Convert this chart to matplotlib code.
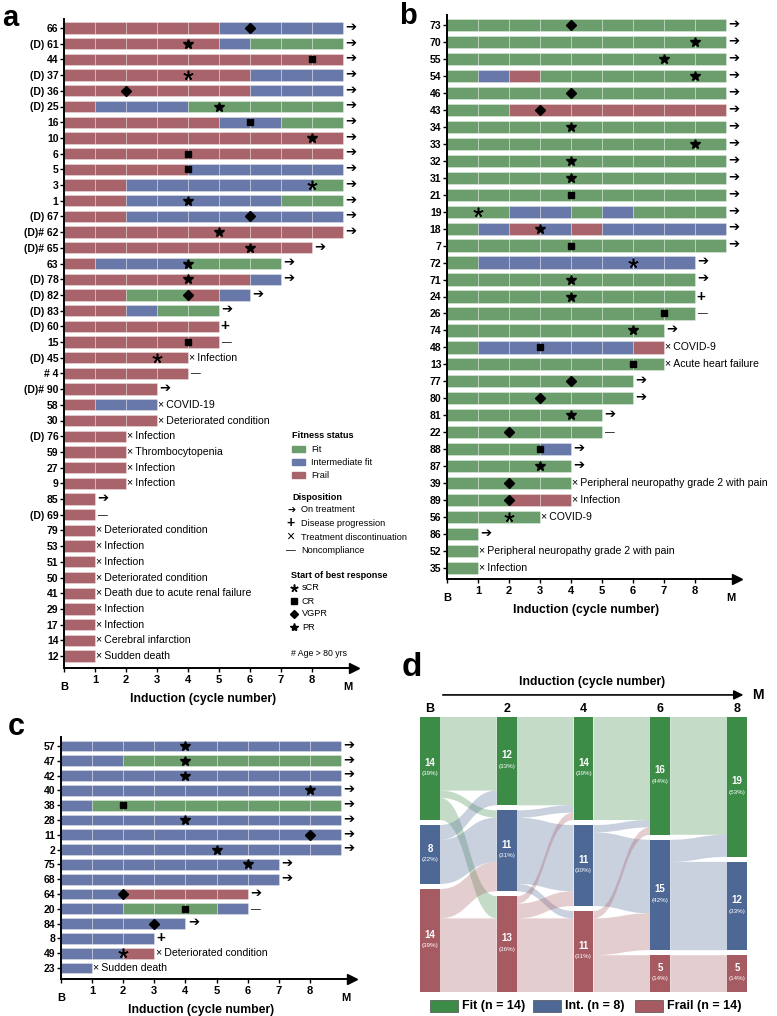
import matplotlib
matplotlib.use("Agg")
import matplotlib.pyplot as plt
from matplotlib.patches import Rectangle, PathPatch
from matplotlib.path import Path
from matplotlib.lines import Line2D

plt.rcParams['font.family'] = ['Liberation Sans', 'DejaVu Sans']

# ---- panel a : frail at baseline ----
a_ids = ["66", "(D) 61", "44", "(D) 37", "(D) 36", "(D) 25", "16", "10", "6", "5", "3", "1",
         "(D) 67", "(D)# 62", "(D)# 65", "63", "(D) 78", "(D) 82", "(D) 83", "(D) 60", "15",
         "(D) 45", "# 4", "(D)# 90", "58", "30", "(D) 76", "59", "27", "9", "85", "(D) 69",
         "79", "53", "51", "50", "41", "29", "17", "14", "12"]
# fitness status per cycle: G = fit, I = intermediate fit, F = frail
a_status = ["FFFFFIIII", "FFFFFIGGG", "FFFFFFFFF", "FFFFFFIII", "FFFFFFIII", "FIIIGGGGG",
            "FFFFFIIGG", "FFFFFFFFF", "FFFFFFFFF", "FFFFIIIII", "FFIIIIIIG", "FFIIIIIGG",
            "FFIIIIIII", "FFFFFFFFF", "FFFFFFFF", "FIIIGGG", "FFFFFFI", "FFGGFI", "FFIGG",
            "FFFFF", "FFFFF", "FFFF", "FFFF", "FFF", "FII", "FFF", "FF", "FF", "FF", "FF",
            "F", "F", "F", "F", "F", "F", "F", "F", "F", "F", "F"]
a_resp = ["VGPR", "PR", "CR", "sCR", "VGPR", "PR", "CR", "PR", "CR", "CR", "sCR", "PR",
          "VGPR", "PR", "PR", "PR", "PR", "VGPR", None, None, "CR", "sCR"] + [None] * 19
a_resp_at = [6, 4, 8, 4, 2, 5, 6, 8, 4, 4, 8, 4, 6, 5, 6, 4, 4, 4, None, None, 4, 3] + [None] * 19
# ">" on treatment, "+" progression, "-" noncompliance, otherwise discontinuation reason
a_disp = [">"] * 19 + ["+", "-", "Infection", "-", ">", "COVID-19", "Deteriorated condition",
                       "Infection", "Thrombocytopenia", "Infection", "Infection", ">", "-",
                       "Deteriorated condition", "Infection", "Infection", "Deteriorated condition",
                       "Death due to acute renal failure", "Infection", "Infection",
                       "Cerebral infarction", "Sudden death"]

# ---- panel b : fit at baseline ----
b_ids = ["73", "70", "55", "54", "46", "43", "34", "33", "32", "31", "21", "19", "18", "7",
         "72", "71", "24", "26", "74", "48", "13", "77", "80", "81", "22", "88", "87", "39",
         "89", "56", "86", "52", "35"]
b_status = ["GGGGGGGGG", "GGGGGGGGG", "GGGGGGGGG", "GIFGGGGGG", "GGGGGGGGG", "GGFFFFFFF",
            "GGGGGGGGG", "GGGGGGGGG", "GGGGGGGGG", "GGGGGGGGG", "GGGGGGGGG", "GGIIGIGGG",
            "GIFIFIIII", "GGGGGGGGG", "GIIIIIII", "GGGGGGGG", "GGGGGGGG", "GGGGGGGG",
            "GGGGGGG", "GIIIIIF", "GGGGGGG", "GGGGGG", "GGGGGG", "GGGGG", "GGGGG", "GGGI",
            "GGGG", "GGGG", "GGFF", "GGG", "G", "G", "G"]
b_resp = ["VGPR", "PR", "PR", "PR", "VGPR", "VGPR", "PR", "PR", "PR", "PR", "CR", "sCR", "PR",
          "CR", "sCR", "PR", "PR", "CR", "PR", "CR", "CR", "VGPR", "VGPR", "PR", "VGPR", "CR",
          "PR", "VGPR", "VGPR", "sCR", None, None, None]
b_resp_at = [4, 8, 7, 8, 4, 3, 4, 8, 4, 4, 4, 1, 3, 4, 6, 4, 4, 7, 6, 3, 6, 4, 3, 4, 2, 3, 3,
             2, 2, 2, None, None, None]
b_disp = [">"] * 16 + ["+", "-", ">", "COVID-9", "Acute heart failure", ">", ">", ">", "-",
                       ">", ">", "Peripheral neuropathy grade 2 with pain", "Infection",
                       "COVID-9", ">", "Peripheral neuropathy grade 2 with pain", "Infection"]

# ---- panel c : intermediate fit at baseline ----
c_ids = ["57", "47", "42", "40", "38", "28", "11", "2", "75", "68", "64", "20", "84", "8",
         "49", "23"]
c_status = ["IIIIIIIII", "IIGGGGGGG", "IIIIIIIII", "IIIIIIIII", "IGGGGGGGG", "IIIIIIIII",
            "IIIIIIIII", "IIIIIIIII", "IIIIIII", "IIIIIII", "IIFFFF", "IIGGGI", "IIII", "III",
            "IIF", "I"]
c_resp = ["PR", "PR", "PR", "PR", "CR", "PR", "VGPR", "PR", "PR", None, "VGPR", "CR", "VGPR",
          None, "sCR", None]
c_resp_at = [4, 4, 4, 8, 2, 4, 8, 5, 6, None, 2, 4, 3, None, 2, None]
c_disp = [">"] * 11 + ["-", ">", "+", "Deteriorated condition", "Sudden death"]

# ---- panel d : sankey ----
d_cols = ["B", "2", "4", "6", "8"]
d_fit = [14, 12, 14, 16, 19]
d_int = [8, 11, 11, 15, 12]
d_frail = [14, 13, 11, 5, 5]
d_pct = [[39, 22, 39], [33, 31, 36], [39, 30, 31], [44, 42, 14], [53, 33, 14]]
# transitions between consecutive columns, rows = from (fit, int, frail), cols = to
d_flows = [[[10, 1, 3], [2, 6, 0], [0, 4, 10]],
           [[12, 0, 0], [1, 9, 1], [1, 2, 10]],
           [[14, 0, 0], [1, 10, 0], [1, 5, 5]],
           [[16, 0, 0], [3, 12, 0], [0, 0, 5]]]

BAR_COL = {"G": "#6b9e6c", "I": "#6878a9", "F": "#a8636b"}
D_COL = ["#3c8c48", "#4e6896", "#a65b63"]
MARK = {
    "sCR": dict(marker=(5, 2, 0), ms=7, mew=1.1, color="k"),
    "CR": dict(marker="s", ms=5, color="k"),
    "VGPR": dict(marker="D", ms=4.8, color="k"),
    "PR": dict(marker="*", ms=7.5, color="k"),
}

W, H = 777, 1016
fig = plt.figure(figsize=(W / 100, H / 100), dpi=100)


def fx(x):
    return x / W


def fy(y):
    return 1 - y / H


def swimmer(left, unit, first, last, axis_y, ids, status, resp, resp_at, disp):
    n = len(ids)
    sp = (last - first) / (n - 1)
    top = first - 0.6 * sp
    ax = fig.add_axes([fx(left), fy(axis_y), 9.35 * unit / W, (axis_y - top) / H])
    ax.set_xlim(0, 9.35)
    ax.set_ylim(n - 1 + (axis_y - last) / sp, -0.6)
    for i in range(n):
        for k, s in enumerate(status[i]):
            ax.barh(i, 1, left=k, height=0.72, color=BAR_COL[s],
                    edgecolor=(1, 1, 1, 0.35), linewidth=0.6)
        end = len(status[i])
        if resp[i]:
            ax.plot(resp_at[i], i, linestyle="none", **MARK[resp[i]])
        d = disp[i]
        if d == ">":
            ax.text(end + 0.08, i, "➔", ha="left", va="center", fontsize=9.5,
                    fontweight="bold", clip_on=False)
        elif d == "+":
            ax.text(end + 0.06, i, "+", ha="left", va="center", fontsize=11,
                    fontweight="bold", clip_on=False)
        elif d == "-":
            ax.text(end + 0.1, i, "—", ha="left", va="center", fontsize=7, clip_on=False)
        else:
            ax.text(end + 0.04, i, "×\u2009" + d, ha="left", va="center", fontsize=7.6,
                    clip_on=False)
    ax.spines[["top", "right"]].set_visible(False)
    ax.spines["left"].set_linewidth(1.4)
    ax.spines["bottom"].set_linewidth(1.4)
    ax.plot(1, 0, ">k", ms=7, transform=ax.transAxes, clip_on=False)
    ax.set_yticks(range(n), ids, fontweight="bold", fontsize=7.5)
    ax.set_xticks(range(9), [""] + [str(c) for c in range(1, 9)], fontweight="bold", fontsize=8)
    ax.tick_params(axis="x", length=3, width=1, pad=2)
    ax.tick_params(axis="y", length=3, width=1, pad=1)
    for lab, xv in [("B", 0), ("M", 9.15)]:
        ax.annotate(lab, (xv, 0), xycoords=("data", "axes fraction"), xytext=(0, -14),
                    textcoords="offset points", ha="center", va="center",
                    fontweight="bold", fontsize=8)
    ax.annotate("Induction (cycle number)", (4.5, 0), xycoords=("data", "axes fraction"),
                xytext=(0, -22), textcoords="offset points", ha="center", va="center",
                fontweight="bold", fontsize=8.8)
    return ax


swimmer(64, 31, 28, 656, 668, a_ids, a_status, a_resp, a_resp_at, a_disp)
swimmer(447, 31, 25, 568, 579, b_ids, b_status, b_resp, b_resp_at, b_disp)
swimmer(61, 31.1, 746, 968, 979, c_ids, c_status, c_resp, c_resp_at, c_disp)

# panel letters
for lab, x, y, s in [("a", 2, 18, 21), ("b", 399, 16, 21), ("c", 8, 727, 22), ("d", 402, 667, 24)]:
    fig.text(fx(x), fy(y), lab, fontsize=s, fontweight="bold", va="center", ha="left")

# ---- legend of panel a ----
def ftext(x, y, s, **kw):
    fig.text(fx(x), fy(y), s, va="center", ha="left", **kw)


ftext(292, 435, "Fitness status", fontsize=6.6, fontweight="bold")
for j, (lab, code) in enumerate([("Fit", "G"), ("Intermediate fit", "I"), ("Frail", "F")]):
    y = 449 + 13 * j
    fig.add_artist(Rectangle((fx(292), fy(y + 3)), 13 / W, 6 / H, color=BAR_COL[code],
                             transform=fig.transFigure))
    ftext(311, y, lab, fontsize=6.6)
ftext(292, 498, "Disposition", fontsize=6.6, fontweight="bold")
ftext(287, 510, "➔", fontsize=7, fontweight="bold")
ftext(286, 523, "+", fontsize=10, fontweight="bold")
ftext(286, 537, "×", fontsize=10)
ftext(286, 550, "—", fontsize=7)
for j, lab in enumerate(["On treatment", "Disease progression", "Treatment discontinuation",
                         "Noncompliance"]):
    ftext(301, 510 + 13.5 * j, lab, fontsize=6.6)
ftext(291, 575, "Start of best response", fontsize=6.6, fontweight="bold")
for j, (lab, key) in enumerate([("sCR", "sCR"), ("CR", "CR"), ("VGPR", "VGPR"), ("PR", "PR")]):
    y = 588 + 13 * j
    style = dict(MARK[key])
    style["ms"] = style["ms"] * 0.8
    fig.add_artist(Line2D([fx(294)], [fy(y)], linestyle="none", transform=fig.transFigure,
                          **style))
    ftext(302, y, lab, fontsize=6.6)
ftext(291, 654, "# Age > 80 yrs", fontsize=6.3)

# ---- panel d : sankey ----
gap = 0.68
total = 36 + 2 * gap
axd = fig.add_axes([fx(400), fy(992), 367 / W, 275 / H])
axd.set_xlim(-0.391, 4.391)
axd.set_ylim(total, 0)
axd.axis("off")
hw = 0.13

nodes = []
for c in range(len(d_cols)):
    vals = [d_fit[c], d_int[c], d_frail[c]]
    tops, y = [], 0
    for v in vals:
        tops.append(y)
        y += v + gap
    nodes.append((vals, tops))

for c, flows in enumerate(d_flows):
    svals, stops = nodes[c]
    tvals, ttops = nodes[c + 1]
    s_off = list(stops)
    t_off = list(ttops)
    segs = []
    for s in range(3):
        for t in range(3):
            v = flows[s][t]
            if v:
                segs.append((s, t, s_off[s], v))
                s_off[s] += v
    t_start = {}
    for s in range(3):
        for t in range(3):
            v = flows[s][t]
            if v:
                t_start[(s, t)] = t_off[t]
                t_off[t] += v
    xs, xt = c + hw, c + 1 - hw
    xm = (xs + xt) / 2
    for s, t, ys, v in segs:
        yt = t_start[(s, t)]
        verts = [(xs, ys), (xm, ys), (xm, yt), (xt, yt), (xt, yt + v), (xm, yt + v),
                 (xm, ys + v), (xs, ys + v), (xs, ys)]
        codes = [Path.MOVETO, Path.CURVE4, Path.CURVE4, Path.CURVE4, Path.LINETO,
                 Path.CURVE4, Path.CURVE4, Path.CURVE4, Path.CLOSEPOLY]
        axd.add_patch(PathPatch(Path(verts, codes), facecolor=D_COL[s], alpha=0.3,
                                edgecolor="none"))

for c, (vals, tops) in enumerate(nodes):
    for k in range(3):
        axd.bar(c, vals[k], bottom=tops[k], width=2 * hw, color=D_COL[k])
        mid = tops[k] + vals[k] / 2
        axd.text(c, mid - 0.8, str(vals[k]), ha="center", va="center", color="white",
                 fontsize=7, fontweight="bold")
        axd.text(c, mid + 0.7, f"({d_pct[c][k]}%)", ha="center", va="center",
                 color="white", fontsize=4.5)
    axd.text(c, -1.1, d_cols[c], ha="center", va="center", fontsize=9, fontweight="bold",
             clip_on=False)

axd.annotate("", xy=(4.12, -3.0), xytext=(0.13, -3.0),
             arrowprops=dict(arrowstyle="-|>", lw=1.2, color="k", mutation_scale=14),
             annotation_clip=False)
axd.text(4.27, -3.0, "M", ha="center", va="center", fontsize=10, fontweight="bold",
         clip_on=False)
axd.text(2.11, -4.76, "Induction (cycle number)", ha="center", va="center", fontsize=8.8,
         fontweight="bold", clip_on=False)

for j, (lab, x0) in enumerate([("Fit (n = 14)", 430), ("Int. (n = 8)", 533),
                               ("Frail (n = 14)", 635)]):
    fig.add_artist(Rectangle((fx(x0), fy(1012)), 28 / W, 12 / H, facecolor=D_COL[j],
                             edgecolor="#333333", linewidth=0.4, transform=fig.transFigure))
    ftext(x0 + 32, 1006, lab, fontsize=9, fontweight="bold")

fig.savefig("out.png", dpi=100)
